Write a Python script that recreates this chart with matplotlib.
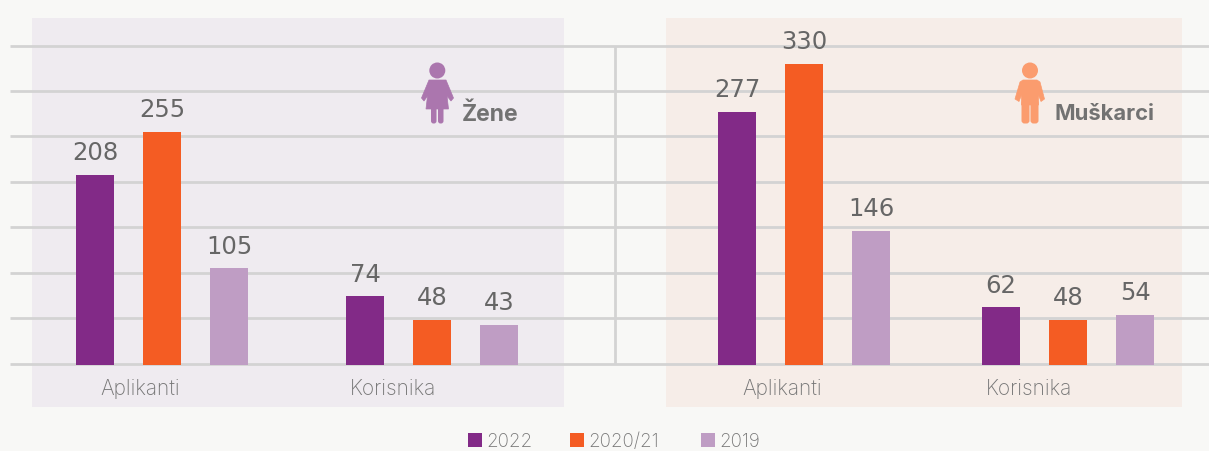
#!/usr/bin/env python3
"""Applicants and beneficiaries by gender, grouped bars in two panels."""
import matplotlib
matplotlib.use("Agg")
import matplotlib.pyplot as plt
from matplotlib.patches import Circle, Polygon, Rectangle, FancyBboxPatch

plt.rcParams["font.family"] = ["Inter", "DejaVu Sans"]

years = ["2022", "2020/21", "2019"]
categories = ["Aplikanti", "Korisnika"]
zene = [[208, 74], [255, 48], [105, 43]]
muskarci = [[277, 62], [330, 48], [146, 54]]
grid_values = [0, 50, 100, 150, 200, 250, 300, 350]

PURPLE = "#822A87"
ORANGE = "#F45C23"
LILAC = "#BF9DC4"
colors = [PURPLE, ORANGE, LILAC]
BG = "#F8F8F6"
GRID = "#D3D3D3"
TEXT = "#666666"

W, H = 1209, 451
PX = 300 / 330  # pixels per unit
BASE = 363.7

fig = plt.figure(figsize=(W / 100, H / 100), dpi=100, facecolor=BG)

# back and front overlays in pixel coords for panels, icons, legend
back = fig.add_axes([0, 0, 1, 1], zorder=1)
top = fig.add_axes([0, 0, 1, 1], zorder=3)
for a in (back, top):
    a.set_xlim(0, W)
    a.set_ylim(H, 0)
    a.axis("off")

ax = fig.add_axes([0, 0, 1, 1], zorder=2)
ax.set_xlim(0, W)
ax.set_ylim(-(H - BASE) / PX, BASE / PX)
ax.axis("off")

# ── Panels ─────────────────────────────────────────────────────────────────────
back.add_patch(Rectangle((32, 18), 532, 389, color="#EFEBF0", lw=0))
back.add_patch(Rectangle((666, 18), 516, 389, color="#F6EDE8", lw=0))

# ── Grid ───────────────────────────────────────────────────────────────────────
for v in grid_values:
    ax.plot([10, W], [v, v], color=GRID, lw=2.0, zorder=1, solid_capstyle="butt")
ax.plot([615, 615], [0, 350], color=GRID, lw=2.0, zorder=1, solid_capstyle="butt")


def draw_bars(values, starts, label_x):
    for i, series in enumerate(values):
        for j, val in enumerate(series):
            x = starts[j] + i * 67
            # bars run down to the lower edge of the baseline
            ax.bar(x, val + 1.5, bottom=-1.5, width=38, color=colors[i], zorder=2)
            ax.annotate(str(val), (x, val), xytext=(0, 10.5), textcoords="offset points",
                        ha="center", va="baseline", fontsize=17.5, color=TEXT,
                        family="DejaVu Sans")
    for j, name in enumerate(categories):
        top.text(label_x[j], 389, name, ha="center", va="center", fontsize=15,
                 fontweight="light", color="#777777")


draw_bars(zene, [95, 365], [140, 393.5])
draw_bars(muskarci, [737, 1001], [782, 1029])


# ── Person icons ───────────────────────────────────────────────────────────────
def woman(c):
    top.add_patch(Circle((437.3, 70.5), 8, color=c, lw=0))
    top.add_patch(FancyBboxPatch((431, 100), 5.5, 23.5, boxstyle="round,pad=0,rounding_size=2.5",
                                 color=c, lw=0))
    top.add_patch(FancyBboxPatch((438, 100), 5.5, 23.5, boxstyle="round,pad=0,rounding_size=2.5",
                                 color=c, lw=0))
    top.add_patch(Polygon([(429, 80), (446, 80), (453.5, 98), (451, 101), (447, 96), (448.5, 109),
                           (426, 109), (427.5, 96), (424, 101), (421.5, 98)],
                          closed=True, color=c, lw=0.5))


def man(c):
    top.add_patch(Circle((1030, 70.5), 8, color=c, lw=0))
    top.add_patch(FancyBboxPatch((1021.5, 100), 8, 23.5, boxstyle="round,pad=0,rounding_size=3",
                                 color=c, lw=0))
    top.add_patch(FancyBboxPatch((1030.5, 100), 8, 23.5, boxstyle="round,pad=0,rounding_size=3",
                                 color=c, lw=0))
    top.add_patch(Polygon([(1023, 80), (1037, 80), (1040, 82), (1044.5, 99), (1041, 101.5), (1038.5, 95),
                           (1038.5, 105), (1021.5, 105), (1021.5, 95), (1019, 101.5), (1015, 99), (1020, 82)],
                          closed=True, color=c, lw=0.5))


woman("#AB76AE")
man("#FB9C6E")
top.text(462, 114.5, "Žene", ha="left", va="center", fontsize=16.5, fontweight="bold", color="#727272")
top.text(1055, 114.5, "Muškarci", ha="left", va="center", fontsize=15.8, fontweight="bold", color="#727272")

# ── Legend ─────────────────────────────────────────────────────────────────────
for name, c, x in zip(years, colors, [468, 570, 701]):
    top.add_patch(Rectangle((x, 433), 14, 14, color=c, lw=0))
    top.text(x + 18, 442, name, ha="left", va="center", fontsize=13.5, fontweight="light", color="#777777")

fig.savefig("out.png", dpi=100, facecolor=BG)
